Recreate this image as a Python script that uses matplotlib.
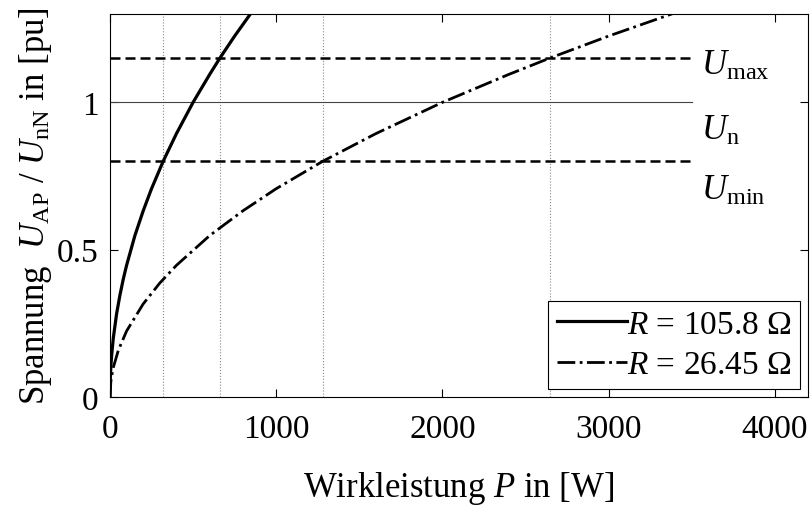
import matplotlib
matplotlib.use('Agg')
import matplotlib.pyplot as plt

plt.rcParams['font.family'] = ['Liberation Serif', 'DejaVu Serif']
plt.rcParams['mathtext.fontset'] = 'custom'
plt.rcParams['mathtext.rm'] = 'Liberation Serif'
plt.rcParams['mathtext.it'] = 'Liberation Serif:italic'

# R = 105.8 Ohm curve
p_r1 = [0, 2, 5, 10, 20, 40, 60, 80, 100, 150, 200, 250, 320, 400, 500, 600, 661, 750, 850, 900]
u_r1 = [0, 0.063, 0.100, 0.141, 0.200, 0.283, 0.346, 0.400, 0.447, 0.548, 0.632, 0.707,
        0.800, 0.894, 1.000, 1.095, 1.150, 1.225, 1.304, 1.342]

# R = 26.45 Ohm curve
p_r2 = [0, 5, 10, 20, 50, 100, 200, 300, 400, 600, 800, 1000, 1280, 1600, 2000, 2400, 2645,
        3000, 3400, 3500]
u_r2 = [0, 0.050, 0.071, 0.100, 0.158, 0.224, 0.316, 0.387, 0.447, 0.548, 0.632, 0.707,
        0.800, 0.894, 1.000, 1.095, 1.150, 1.225, 1.304, 1.323]

u_max = 1.15
u_n = 1.0
u_min = 0.8
p_limit = 3500
p_cross = [320, 661, 1280, 2645]

fig = plt.figure(figsize=(8.11, 5.06), dpi=100)
ax = fig.add_axes([0.1356, 0.2134, 0.8607, 0.757])

for p in p_cross:
    ax.plot([p, p], [0, 1.3], color='#888888', linestyle=':', linewidth=0.8)

ax.plot([0, p_limit], [u_n, u_n], color='#444444', linewidth=0.8)
l_max, = ax.plot([0, p_limit], [u_max, u_max], color='black', linewidth=1.8)
l_max.set_dashes([4, 2])
l_min, = ax.plot([0, p_limit], [u_min, u_min], color='black', linewidth=1.8)
l_min.set_dashes([4, 2])

ax.plot(p_r1, u_r1, color='black', linewidth=2.3, label=r'$R$ = 105.8 $\Omega$')
ax.plot(p_r2, u_r2, color='black', linewidth=2.0, linestyle='-.', label=r'$R$ = 26.45 $\Omega$')

ax.text(3555, 1.125, r'$U_{\mathrm{max}}$', fontsize=25, va='center')
ax.text(3555, 0.905, r'$U_{\mathrm{n}}$', fontsize=25, va='center')
ax.text(3555, 0.70, r'$U_{\mathrm{min}}$', fontsize=25, va='center')

ax.set_xlim(0, 4200)
ax.set_ylim(0, 1.3)
ax.set_xticks([0, 1000, 2000, 3000, 4000])
ax.set_yticks([0, 0.5, 1])
ax.set_yticklabels(['0', '0.5', '1'])
ax.tick_params(direction='in', top=True, right=True, labelsize=24, length=6, width=0.8)
ax.tick_params(axis='x', pad=12)
ax.tick_params(axis='y', pad=8)

ax.set_xlabel(r'Wirkleistung $P$ in [W]', fontsize=25, labelpad=18)
ax.set_ylabel(r'Spannung  $U_{\mathrm{AP}}$ / $U_{\mathrm{nN}}$ in [pu]', fontsize=25, labelpad=2)

leg = ax.legend(loc='lower right', fontsize=24, handlelength=2.1, handletextpad=0.0,
                borderaxespad=0.25, fancybox=False, edgecolor='black', framealpha=1,
                labelspacing=0.3, borderpad=0.25)
leg.get_frame().set_linewidth(0.8)

fig.savefig('out.png', dpi=100)
